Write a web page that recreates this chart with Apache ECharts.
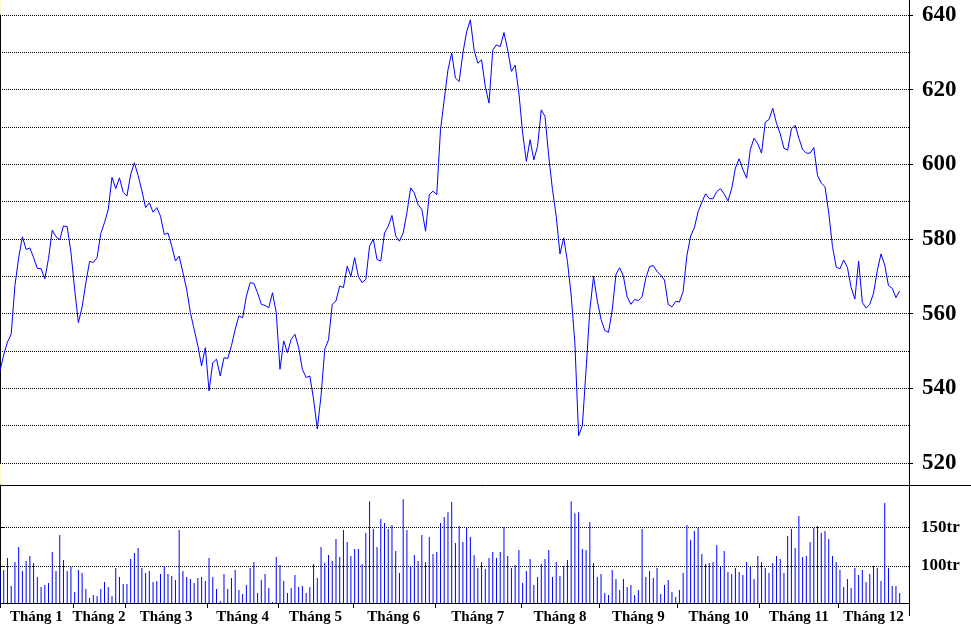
<!DOCTYPE html>
<html><head><meta charset="utf-8">
<script src="https://cdn.jsdelivr.net/npm/echarts@6/dist/echarts.min.js"></script>
<style>html,body{margin:0;padding:0;background:#fff}#c{width:971px;height:633px}</style>
</head><body><div id="c"></div>
<script>
const monthLabels = ['Tháng 1','Tháng 2','Tháng 3','Tháng 4','Tháng 5','Tháng 6','Tháng 7','Tháng 8','Tháng 9','Tháng 10','Tháng 11','Tháng 12'];
const tradingDaysPerMonth = [20,14,22,19,20,22,23,21,21,22,21,17];
const priceLabelValues = [520,540,560,580,600,620,640];
const volumeTickValues = [100,150];

const indexValues = [
544.7,549.0,552.4,554.5,567.5,575.0,580.6,577.2,577.6,575.0,
572.1,572.1,569.3,574.8,582.4,580.6,579.8,583.5,583.3,576.5,
566.5,557.6,561.8,568.3,574.0,573.7,575.0,581.5,584.4,587.9,
596.5,593.5,596.4,592.5,591.5,597.3,600.4,597.0,593.0,588.4,
589.7,587.2,588.4,586.1,581.2,581.6,578.1,574.1,575.4,571.0,
566.5,560.3,555.8,551.4,546.0,550.9,539.3,546.9,547.8,543.3,
548.2,548.0,551.4,555.8,559.4,558.9,564.7,568.3,568.1,565.6,
562.5,562.2,561.6,565.6,560.3,545.1,552.7,549.6,553.1,554.5,
550.9,545.1,542.9,543.3,537.1,529.1,538.0,550.5,553.0,562.5,
563.4,567.4,567.0,572.7,570.0,575.0,570.0,568.3,569.2,578.1,
579.9,574.5,574.1,581.6,583.4,586.3,580.8,579.4,581.6,587.0,
593.7,592.3,589.2,587.9,582.1,591.9,592.8,591.9,609.3,617.3,
625.3,629.8,623.1,622.2,629.8,635.5,638.7,630.6,627.1,628.0,
620.8,616.4,630.6,632.0,631.5,635.3,630.6,624.9,626.6,619.1,
608.4,600.8,606.6,601.2,604.8,614.6,612.8,602.1,593.2,586.1,
576.0,580.3,574.0,565.0,552.0,527.3,530.0,545.0,561.0,570.0,
563.4,558.5,555.5,555.0,561.0,570.5,572.3,570.0,564.5,562.5,
563.8,563.5,564.5,569.5,572.6,572.9,571.3,570.3,569.0,562.5,
561.8,563.3,563.1,566.0,575.5,580.8,583.0,587.3,589.8,592.1,
590.8,590.8,592.7,593.5,592.0,590.2,593.5,599.0,601.5,598.6,
596.3,604.0,607.0,605.5,603.0,611.3,612.0,615.0,611.0,608.2,
604.3,603.8,609.5,610.5,607.0,604.0,603.0,603.0,604.5,597.0,
595.0,594.0,587.0,578.0,572.5,572.0,574.4,572.4,567.0,563.9,
574.1,563.0,561.5,562.5,565.5,571.5,576.0,573.0,567.5,566.8,
564.3,566.1
];

const volumeValues = [
92.7,94.8,110.3,74.1,105.2,124.6,93.5,106.5,112.9,103.9,
85.8,72.8,75.4,78,118.1,93.5,140.1,107.8,93.5,98.7,
66.4,94.8,90.9,70.3,58.6,62.5,61.2,70.3,79.3,72.8,
61.2,97.4,85.8,76.7,76.7,109.1,116.8,123.3,97.4,90.9,
93.5,79.3,80.6,89.7,100,89.7,87.1,81.9,146.6,93.5,
85.8,83.2,78,84.5,85.8,80.6,110.3,85.8,70.3,54.7,
89.7,70.3,84.5,94.8,69,63.8,75.4,97.4,105.2,65.1,
81.9,89.7,71.6,53.4,111.6,101.3,80.6,65.1,71.6,88.4,
72.8,74.1,65.1,72.8,102.6,
84.5,124.6,104.3,114.2,106.5,134.9,111.6,146.6,131,112.9,
122,122,102.6,142.7,184,147.8,124.6,160.8,155.6,147.8,
153,119.4,90.9,186.6,146.6,100,114.2,106.5,140.1,105.2,
137.5,115.5,118.1,155.6,163.4,169.8,182.8,129.7,151.7,131,
149.1,137.5,114.2,97.4,105.2,96.1,110.3,118.1,110.3,118.1,
150.4,112.9,97.4,101.3,120.7,78,93.5,109.1,75.4,85.8,
102.6,109.1,120.7,85.8,105.2,87.1,100,107.8,184,168.5,
169.8,122,120.7,156.9,103.9,85.8,89.7,65.1,62.5,94.8,
83.2,69,83.2,72.8,75.4,62.5,
69,147.8,85.8,93.5,84.5,97.4,63.8,75.4,81.9,66.4,
59.9,69,90.9,153,133.6,145.3,149.6,115.5,102.6,103.9,
105.2,127.2,99.1,119.4,92.2,89.7,97.4,92.2,88.4,105.2,
98.7,83.2,112.9,105.2,97.4,90.9,103.9,112.9,109.1,90.9,
138.8,147.8,123.3,164.7,111.6,112.9,131,149.1,151.7,142.7,
145.3,134.9,112.9,105.2,94.8,72.8,83.2,71.6,97.4,88.4,
94.8,79.3,89.7,100,97.4,80.6,181.5,97.4,74.1,74.1,65.1
];

const FONT = '"Liberation Serif", "Times New Roman", serif';
const axisEnd = tradingDaysPerMonth.reduce((a,b)=>a+b,0) + 1.5;
const boundaries = [];
let acc = 0;
tradingDaysPerMonth.forEach(d => { acc += d; boundaries.push(acc - 0.5); });
const monthTicks = [0].concat(boundaries.slice(0, 11));
const monthEnds = boundaries.slice(0, 11).concat([axisEnd]);
const monthCenters = monthTicks.map((s, i) => (s + monthEnds[i]) / 2);

const chart = echarts.init(document.getElementById('c'), null, {renderer:'canvas'});
const dotted = {color:'#000', type:[1,1], width:1};
chart.setOption({
  animation:false,
  backgroundColor:'#fff',
  grid:[
    {left:0, right:62, top:15, height:448},
    {left:0, right:62, top:485, bottom:30}
  ],
  xAxis:[
    {gridIndex:0, type:'value', min:0, max:axisEnd, show:false},
    {gridIndex:1, type:'value', min:0, max:axisEnd,
     axisLine:{show:true, lineStyle:{color:'#000', width:1}},
     axisTick:{show:true, customValues:monthTicks, length:5, lineStyle:{color:'#000'}},
     axisLabel:{customValues:monthCenters, margin:7,
       formatter:(v)=>{const k = monthCenters.findIndex(c=>Math.abs(c-v)<1e-6); return k>=0?monthLabels[k]:'';},
       fontFamily:FONT, fontWeight:'bold', fontSize:15, color:'#000'},
     splitLine:{show:false}}
  ],
  yAxis:[
    {gridIndex:0, type:'value', position:'right', min:520, max:640, interval:10,
     axisLine:{show:true, lineStyle:{color:'#000'}},
     axisTick:{show:false},
     axisLabel:{formatter:(v)=> priceLabelValues.indexOf(v)>=0 ? String(v) : '',
       fontFamily:FONT, fontWeight:'bold', fontSize:23, color:'#000', margin:13},
     splitLine:{show:true, lineStyle:dotted}},
    {gridIndex:0, type:'value', position:'right', min:520, max:640, interval:20,
     axisLine:{show:false}, axisTick:{show:true, length:4, lineStyle:{color:'#000'}},
     axisLabel:{show:false}, splitLine:{show:false}},
    {gridIndex:1, type:'value', position:'right', min:52, max:205,
     axisLine:{show:true, lineStyle:{color:'#000'}},
     axisTick:{show:true, customValues:volumeTickValues, length:5, lineStyle:{color:'#000'}},
     axisLabel:{customValues:volumeTickValues, formatter:(v)=>v+'tr',
       fontFamily:FONT, fontWeight:'bold', fontSize:17, color:'#000', margin:12},
     splitLine:{show:true, lineStyle:dotted}}
  ],
  graphic:[
    {type:'line', shape:{x1:0.5,y1:0,x2:0.5,y2:603}, style:{stroke:'#fff6c8', lineWidth:1}, z:-10},
    {type:'line', shape:{x1:909.5,y1:0,x2:909.5,y2:616}, style:{stroke:'#000', lineWidth:1}, z:100},
    {type:'line', shape:{x1:0,y1:485.5,x2:971,y2:485.5}, style:{stroke:'#000', lineWidth:1}, z:100}
  ],
  series:[
    {type:'line', xAxisIndex:0, yAxisIndex:0, data:indexValues.map((v,i)=>[i,v]),
     showSymbol:false, symbol:'none', lineStyle:{color:'#0000ff', width:1}, itemStyle:{color:'#0000ff'}, z:5},
    {type:'bar', xAxisIndex:1, yAxisIndex:2, data:volumeValues.map((v,i)=>[i,v]),
     barWidth:1, itemStyle:{color:'#0000ff'}, z:5}
  ]
});
</script></body></html>
